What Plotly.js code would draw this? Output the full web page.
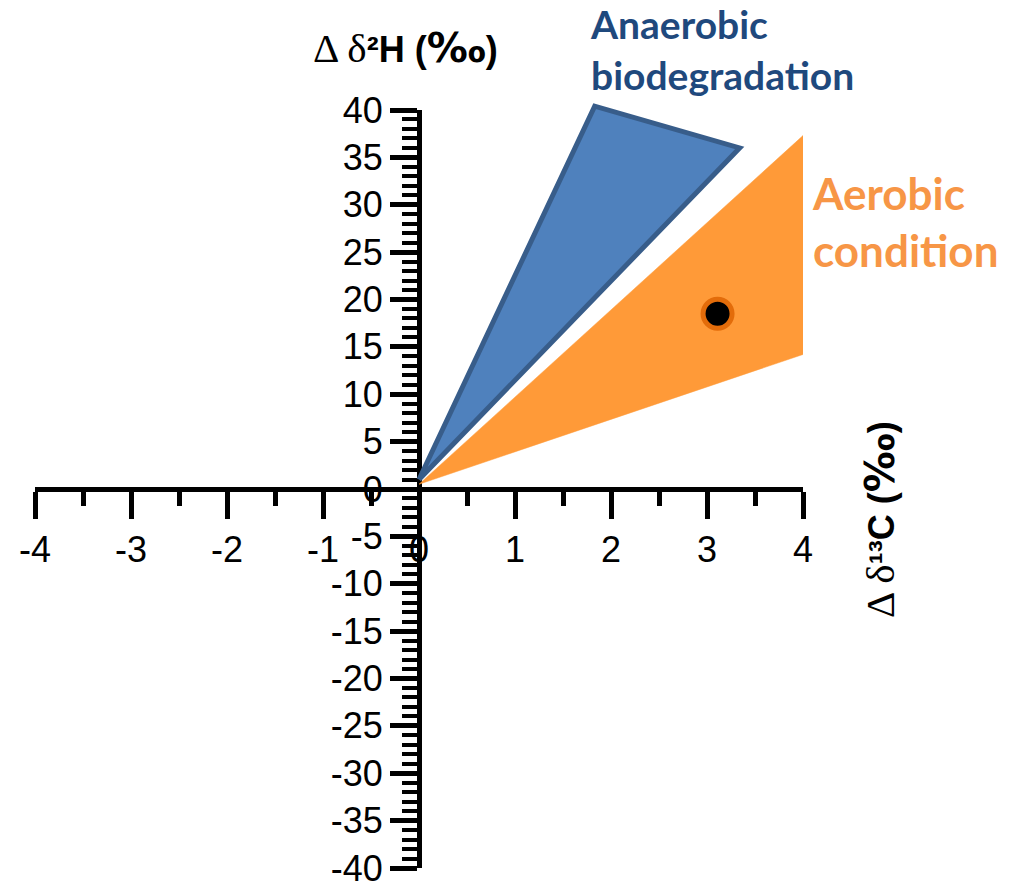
<!DOCTYPE html>
<html>
<head>
<meta charset="utf-8">
<script src="https://cdn.plot.ly/plotly-3.0.1.min.js"></script>
<style>html,body{margin:0;padding:0;background:#fff;}#chart{width:1011px;height:893px;}</style>
</head>
<body>
<div id="chart"></div>
<script>
// Anaerobic biodegradation region (Δδ13C, Δδ2H)
const anaerobicX = [0, 1.83, 3.34, 0];
const anaerobicY = [1, 40.4, 36.0, 1];
// Aerobic condition region
const aerobicX = [0, 4.0, 4.0, 0];
const aerobicY = [0.5, 37.3, 14.2, 0.5];
// Measured sample point
const sampleX = [3.11];
const sampleY = [18.5];
// Axis ticks
const xTicks = [-4, -3, -2, -1, 0, 1, 2, 3, 4];
const yTicks = [-40, -35, -30, -25, -20, -15, -10, -5, 0, 5, 10, 15, 20, 25, 30, 35, 40];

// plot geometry (pixels)
const W = 1011, H = 893;
const mL = 35, mR = 208, mT = 60, mB = 25;
const plotH = H - mT - mB;            // full drawing area height
const yTopPx = 110, yBotPx = H - mB;  // where +40 and -40 sit
const yDomTop = (H - mB - yTopPx) / plotH;
const pxPerUnit = (yBotPx - yTopPx) / 80;
const y2Max = -40 + plotH / pxPerUnit;
const zeroPos = (H - mB - (yBotPx + yTopPx) / 2) / plotH;

const traces = [
  // empty trace so the visible x/y axis pair is drawn
  {x: [], y: [], xaxis: 'x', yaxis: 'y', type: 'scatter', mode: 'markers', hoverinfo: 'skip'},
  {x: aerobicX, y: aerobicY, yaxis: 'y2', type: 'scatter', mode: 'lines', fill: 'toself',
   fillcolor: '#FF9A38', line: {color: '#FF9A38', width: 0.5}, hoverinfo: 'skip'},
  {x: anaerobicX, y: anaerobicY, yaxis: 'y2', type: 'scatter', mode: 'lines', fill: 'toself',
   fillcolor: '#4F81BD', line: {color: '#385D8A', width: 5}, hoverinfo: 'skip'},
  {x: sampleX, y: sampleY, yaxis: 'y2', type: 'scatter', mode: 'markers',
   marker: {size: 29, color: '#000000', line: {color: '#E36C0A', width: 5}}}
];

const tickFont = {family: 'Liberation Sans, Arial, sans-serif', size: 36, color: '#000'};
const titleFont = {family: 'Liberation Sans, Arial, sans-serif', size: 36, color: '#000'};
const layout = {
  width: W, height: H,
  margin: {l: mL, r: mR, t: mT, b: mB, pad: 0},
  paper_bgcolor: '#fff', plot_bgcolor: 'rgba(0,0,0,0)',
  showlegend: false,
  xaxis: {
    range: [-4, 4], anchor: 'free', position: zeroPos,
    tickvals: xTicks, ticktext: xTicks.map(String),
    showgrid: false, zeroline: false,
    showline: true, linecolor: '#000', linewidth: 5,
    ticks: 'outside', ticklen: 27, tickwidth: 5, tickcolor: '#000',
    minor: {dtick: 0.5, ticks: 'outside', ticklen: 14, tickwidth: 5, tickcolor: '#000', showgrid: false},
    tickfont: tickFont, ticklabeloverflow: 'allow'
  },
  yaxis: {
    range: [-40, 40], domain: [0, yDomTop], anchor: 'free', position: 0.5,
    tickvals: yTicks, ticktext: yTicks.map(String),
    showgrid: false, zeroline: false,
    showline: true, linecolor: '#000', linewidth: 5,
    ticks: 'outside', ticklen: 27, tickwidth: 5, tickcolor: '#000',
    minor: {dtick: 1, ticks: 'outside', ticklen: 15, tickwidth: 4, tickcolor: '#000', showgrid: false},
    tickfont: tickFont, ticklabeloverflow: 'allow'
  },
  yaxis2: {
    range: [-40, y2Max], domain: [0, 1], anchor: 'x', visible: false,
    showgrid: false, zeroline: false
  },
  annotations: [
    {xref: 'paper', yref: 'paper', x: (405 - mL) / (W - mL - mR), y: (H - mB - 48) / plotH,
     xanchor: 'center', yanchor: 'middle', showarrow: false,
     text: '<span style="font-family:Liberation Serif;font-size:41px">Δ δ</span><b>²H (<span style="font-family:DejaVu Sans;font-size:41px">‰</span>)</b>',
     font: titleFont},
    {xref: 'paper', yref: 'paper', x: (880 - mL) / (W - mL - mR), y: (H - mB - 520) / plotH,
     xanchor: 'center', yanchor: 'middle', showarrow: false, textangle: -90,
     text: '<span style="font-family:Liberation Serif;font-size:41px">Δ δ</span><b>¹³C (<span style="font-family:DejaVu Sans;font-size:41px">‰</span>)</b>',
     font: titleFont},
    {xref: 'paper', yref: 'paper', x: (588 - mL) / (W - mL - mR), y: (H - mB - 49) / plotH,
     xanchor: 'left', yanchor: 'middle', align: 'left', showarrow: false,
     text: '<b>Anaerobic<br>biodegradation</b>',
     font: {family: 'Lato, Open Sans, sans-serif', size: 39, color: '#1F497D'}},
    {xref: 'paper', yref: 'paper', x: (810 - mL) / (W - mL - mR), y: (H - mB - 222) / plotH,
     xanchor: 'left', yanchor: 'middle', align: 'left', showarrow: false,
     text: '<b>Aerobic<br>condition</b>',
     font: {family: 'Lato, Open Sans, sans-serif', size: 44, color: '#F79646'}}
  ]
};

Plotly.newPlot('chart', traces, layout, {displayModeBar: false, staticPlot: true});
</script>
</body>
</html>
